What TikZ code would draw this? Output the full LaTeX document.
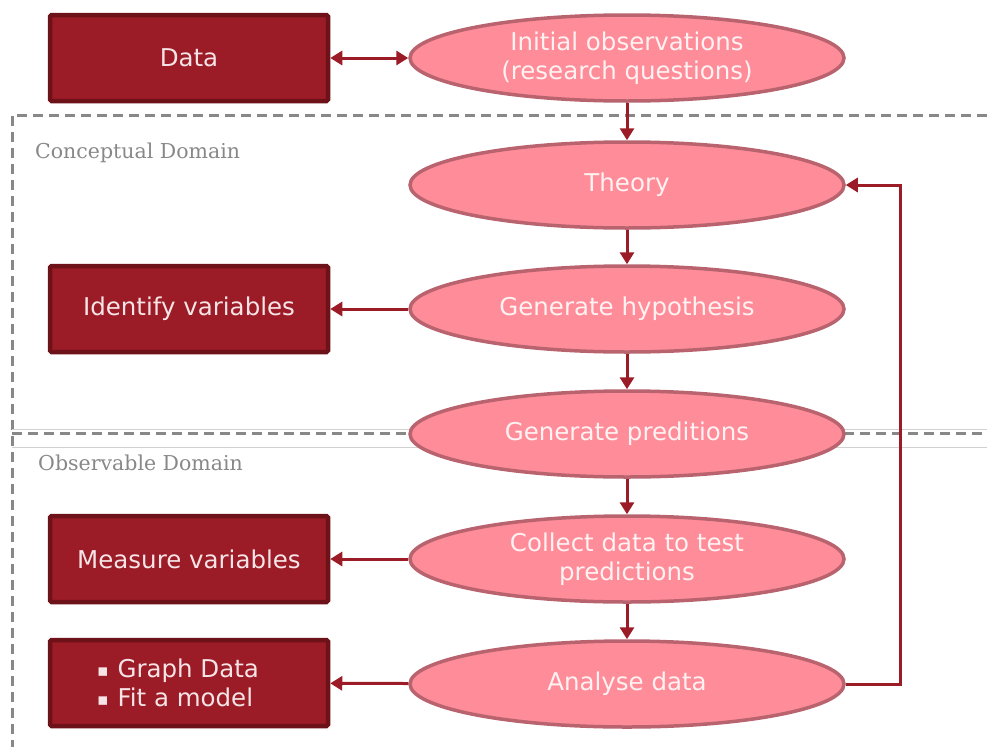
\documentclass[tikz,border=0pt]{standalone}
\usepackage{fontspec}
\setmainfont{DejaVu Sans}
\newfontfamily\domainfont{DejaVu Serif}
\usetikzlibrary{shapes.geometric,arrows.meta}
\definecolor{boxfill}{HTML}{9B1B26}
\definecolor{boxedge}{HTML}{6E121A}
\definecolor{ovalfill}{HTML}{FF8C99}
\definecolor{ovaledge}{HTML}{B8636E}
\definecolor{ovaltext}{HTML}{FFF2F2}
\definecolor{boxtext}{HTML}{F6E4E6}
\definecolor{flow}{HTML}{9B1B26}
\definecolor{domaingray}{HTML}{888888}
\newcommand{\sqbullet}{\raisebox{1pt}{\fontsize{17}{17}\selectfont▪}\hspace{9pt}}
\tikzset{
  darkbox/.style={draw=boxedge, line width=4.5pt, fill=boxfill, rounded corners=1.5pt,
    minimum width=278pt, minimum height=86pt, inner sep=0pt, text=boxtext,
    font=\fontsize{24.5}{29}\selectfont, align=center},
  oval/.style={ellipse, draw=ovaledge, line width=3.5pt, fill=ovalfill,
    minimum width=434pt, minimum height=86pt, inner sep=0pt, text=ovaltext,
    font=\fontsize{24.5}{29}\selectfont, align=center},
  tip/.tip={Triangle[length=12pt,width=14pt]},
  flowarrow/.style={draw=flow, line width=3pt, -tip},
  domainline/.style={draw=domaingray, line width=3pt, dash pattern=on 10pt off 6pt},
  domainlabel/.style={anchor=west, text=domaingray, inner sep=0pt,
    font=\domainfont\fontsize{20.5}{24}\selectfont}
}
\begin{document}
\begin{tikzpicture}[x=1pt, y=-1pt]
\useasboundingbox (0,0) rectangle (987,747);

% domain frame and the divider between the two domains
\coordinate (frameTL) at (12,115);
\coordinate (frameTR) at (987,115);
\coordinate (frameBL) at (12,747);
\draw[domainline] (frameTR) -- (frameTL) -- (frameBL);
\draw[draw=black!18, line width=1pt] (12,429) -- (987,429) (12,447) -- (987,447);
\draw[domainline] (12,433) -- (987,433);
\node[domainlabel] (concept) at (35,153) {Conceptual Domain};
\node[domainlabel] (observe) at (38,463) {Observable Domain};

% main sequence of steps
\node[oval] (init)  at (627,58)  {Initial observations\\(research questions)};
\node[oval] (theory) at (627,185) {Theory};
\node[oval] (hyp)   at (627,309) {Generate hypothesis};
\node[oval] (pred)  at (627,434) {Generate preditions};
\node[oval] (coll)  at (627,559) {Collect data to test\\predictions};
\node[oval] (anal)  at (627,684) {Analyse data};

% side boxes
\node[darkbox] (data)    at (189,58)  {Data};
\node[darkbox] (ident)   at (189,309) {Identify variables};
\node[darkbox] (measure) at (189,559) {Measure variables};
\node[darkbox] (graph) at (189,683)
  {\begin{tabular}{@{}l@{\hspace{22pt}}}\rule{0pt}{26pt}\sqbullet Graph Data\\\sqbullet Fit a model\end{tabular}};

% connectors
\draw[flowarrow, tip-tip] (data) -- (init);
\draw[flowarrow] (init) -- (theory);
\draw[flowarrow] (theory) -- (hyp);
\draw[flowarrow] (hyp) -- (pred);
\draw[flowarrow] (pred) -- (coll);
\draw[flowarrow] (coll) -- (anal);
\draw[flowarrow] (hyp) -- (ident);
\draw[flowarrow] (coll) -- (measure);
\draw[flowarrow] (anal) -- (graph);
\coordinate (loopB) at (900,684);
\coordinate (loopT) at (900,185);
\draw[flowarrow] (anal.east) -- (loopB) -- (loopT) -- (theory.east);
\end{tikzpicture}
\end{document}
